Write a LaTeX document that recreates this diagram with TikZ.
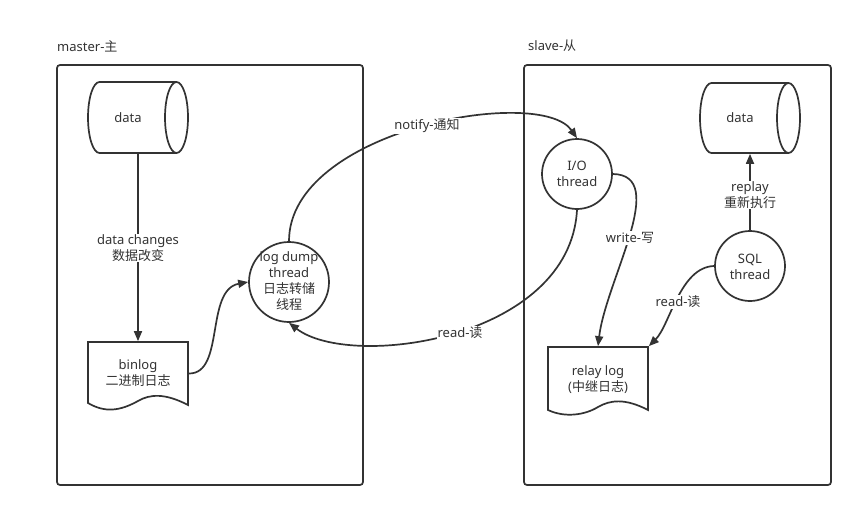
\documentclass[tikz,border=0pt]{standalone}
\usepackage{fontspec}
\setmainfont{Noto Sans}
\newfontfamily\cjk{Noto Sans CJK SC}
\usetikzlibrary{arrows.meta}
\definecolor{ink}{HTML}{333333}
\begin{document}
\begin{tikzpicture}[x=1pt,y=-1pt,line width=1.7pt,
  every node/.style={font=\fontsize{13}{16}\selectfont, text=ink, align=center},
  arr/.style={draw=ink, line width=1.7pt, -{Triangle[length=10pt,width=8pt]}},
  lbl/.style={fill=white, inner sep=1pt},
  ghost/.style={inner sep=0pt, minimum width=#1},
  box/.style={draw=ink, rounded corners=3pt, inner sep=0pt},
  thread/.style={draw=ink, circle, inner sep=0pt, minimum size=#1}]
\useasboundingbox[fill=white] (0,0) rectangle (856,511);

% containers
\node[box, minimum width=306pt, minimum height=420pt] (mbox) at (210,275) {};
\node[box, minimum width=307pt, minimum height=420pt] (sbox) at (677.5,275) {};
\node[anchor=west] (mtitle) at (53,46) {master-{\cjk 主}};
\node[anchor=west] (stitle) at (524,46) {slave-{\cjk 从}};

% master data cylinder
\node[ghost=100pt, minimum height=71pt] (mdata) at (138,117.5) {};
\draw[draw=ink] (176.5,82) -- (99.5,82) arc[start angle=90,end angle=270,x radius=11.5pt,y radius=35.5pt] -- (176.5,153);
\draw[draw=ink] (176.5,117.5) ellipse [x radius=11.5pt, y radius=35.5pt];
\node (mdatat) at (128,118) {data};

% binlog document
\node[ghost=100pt, minimum height=63pt] (binlog) at (138,373.5) {};
\draw[draw=ink] (88,342) -- (188,342) -- (188,405) .. controls (165,393) and (150,394) .. (138,401) .. controls (120,411) and (105,413) .. (88,403) -- cycle;
\node (binlogt) at (138,373.5) {binlog\\{\cjk 二进制日志}};

% log dump thread
\node[thread=80pt] (dump) at (289,282) {};
\node (dumpt) at (289,281.5) {log dump\\thread\\{\cjk 日志转储}\\{\cjk 线程}};

% slave data cylinder
\node[ghost=100pt, minimum height=70pt] (sdata) at (750,118) {};
\draw[draw=ink] (788.5,83) -- (711.5,83) arc[start angle=90,end angle=270,x radius=11.5pt,y radius=35pt] -- (788.5,153);
\draw[draw=ink] (788.5,118) ellipse [x radius=11.5pt, y radius=35pt];
\node (sdatat) at (740,118) {data};

% I/O thread
\node[thread=70pt] (io) at (577,174) {};
\node (iot) at (577,174) {I/O\\thread};

% SQL thread
\node[thread=70pt] (sql) at (750,266) {};
\node (sqlt) at (750,267) {SQL\\thread};

% relay log
\node[ghost=100pt, minimum height=63pt] (relay) at (598,378.5) {};
\draw[draw=ink] (548,347) -- (648,347) -- (648,410) .. controls (625,398) and (610,400) .. (598,407) .. controls (585,415) and (565,418) .. (548,410) -- cycle;
\node (relayt) at (598,380) {relay log\\({\cjk 中继日志})};

% connectors
\draw[arr] (mdata.south) -- (binlog.north);
\node[lbl] (lchg) at (138,248) {data changes\\{\cjk 数据改变}};
\draw[arr] (binlog.east) .. controls (225,374) and (205,290) .. (dump.west);
\draw[arr] (dump.north) .. controls (289,130) and (540,85) .. (io.north);
\node[lbl] (lnotify) at (427,126) {notify-{\cjk 通知}};
\draw[arr] (io.south) .. controls (570,340) and (350,370) .. (dump.south);
\node[lbl] (lread) at (460,333) {read-{\cjk 读}};
\draw[arr] (io.east) .. controls (670,175) and (606,280) .. (relay.north);
\node[lbl] (lwrite) at (630,238) {write-{\cjk 写}};
\draw[arr] (sql.west) .. controls (680,267) and (670,325) .. (relay.north east);
\node[lbl] (lread2) at (678,302) {read-{\cjk 读}};
\draw[arr] (sql.north) -- (sdata.south);
\node[lbl] (lreplay) at (750,195) {replay\\{\cjk 重新执行}};
\end{tikzpicture}
\end{document}
